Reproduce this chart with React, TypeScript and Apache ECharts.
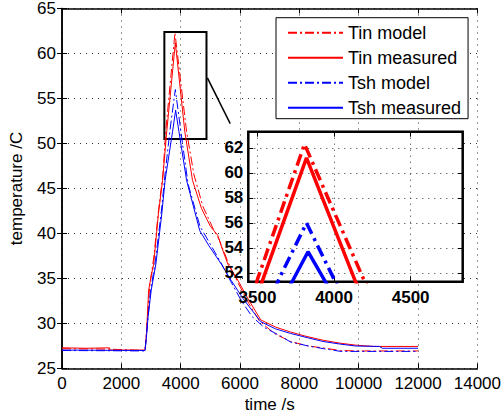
import React, { useEffect, useRef } from "react";
import * as echarts from "echarts";

// ---- data (time s, temperature C) ----
const tinModel: [number, number][] = [
  [0, 27.2], [1600, 27.15], [2800, 27.0], [2870, 30.0], [2950, 34.0], [3100, 37.5], [3250, 42.5],
  [3400, 46.5], [3500, 51.5], [3807, 62.3], [4200, 51.3], [4450, 46.5], [4750, 43.0], [5100, 40.5],
  [5300, 39.3], [5600, 36.8], [5950, 34.4], [6300, 32.2], [6650, 30.3], [7150, 28.9], [7700, 28.0],
  [8300, 27.5], [8710, 27.33], [9380, 27.0], [10000, 26.95], [12000, 26.95],
];
const tinMeasured: [number, number][] = [
  [0, 27.3], [800, 27.25], [1600, 27.3], [1620, 27.05], [2800, 27.05], [2850, 29.0], [2920, 33.7],
  [3000, 35.2], [3090, 36.6], [3250, 42.2], [3390, 45.9], [3530, 51.3], [3820, 61.2], [4140, 51.3],
  [4400, 45.9], [4700, 42.8], [5000, 40.8], [5250, 39.8], [5400, 38.3], [5590, 36.6], [5930, 34.8],
  [6260, 32.8], [6700, 30.4], [7200, 29.6], [7700, 29.06], [8200, 28.6], [8800, 28.14], [9400, 27.8],
  [9940, 27.58], [10500, 27.45], [12000, 27.45],
];
const tshModel: [number, number][] = [
  [0, 27.0], [2800, 26.95], [2880, 30.0], [2980, 33.5], [3150, 37.0], [3350, 42.5], [3470, 46.5],
  [3640, 51.5], [3820, 56.0], [4008, 51.3], [4250, 45.5], [4650, 40.8], [5000, 38.8], [5350, 36.8],
  [5700, 34.6], [6050, 32.5], [6400, 30.8], [6800, 29.6], [7370, 28.6], [7700, 27.95], [8300, 27.5],
  [8820, 27.2], [9400, 26.9], [12000, 26.9],
];
const tshMeasured: [number, number][] = [
  [0, 27.05], [2800, 27.0], [2860, 29.0], [2900, 30.7], [3007, 33.7], [3164, 36.6], [3364, 42.2],
  [3475, 45.9], [3726, 51.3], [3830, 53.7], [3943, 51.3], [4200, 45.9], [4645, 40.3], [4980, 38.5],
  [5370, 36.6], [5700, 34.8], [6094, 32.8], [6700, 30.2], [7200, 29.4], [7700, 28.9], [8300, 28.4],
  [8800, 28.0], [9400, 27.7], [9900, 27.5], [10700, 27.45], [10800, 27.25], [12000, 27.25],
];

const seriesNames = ["Tin model", "Tin measured", "Tsh model", "Tsh measured"];
const seriesColors = ["#ff0000", "#ff0000", "#0000ff", "#0000ff"];
const seriesDashed = [true, false, true, false];
const seriesData = [tinModel, tinMeasured, tshModel, tshMeasured];

// zoom window and inset ranges
const zoomBoxX = [3450, 4870];
const zoomBoxY = [50.5, 62.4];
const connector = [[4900, 57.3], [5670, 52.2]];
const mainX = { min: 0, max: 14000, interval: 2000 };
const mainY = { min: 25, max: 65, interval: 5 };
const insetX = { min: 3440, max: 4840 };
const insetY = { min: 51.3, max: 63.3 };
const insetXTicks = [3500, 4000, 4500];
const insetYTicks = [52, 54, 56, 58, 60, 62];

const FONT = "Liberation Sans, Arial, Helvetica, sans-serif";

export default function App() {
  const ref = useRef<HTMLDivElement>(null);
  useEffect(() => {
    if (!ref.current) return;
    const chart = echarts.init(ref.current, undefined, { renderer: "svg" });

    const dotted = { show: true, lineStyle: { color: "#333", type: [1, 5] as any, width: 1 } };
    const axisLineMain = { show: true, lineStyle: { color: "#000", width: 1.5 } };
    const tickIn = { show: true, inside: true, length: 5, lineStyle: { color: "#000", width: 1 } };
    const fmt = (v: number) => String(v);
    const labelMain = { color: "#000", fontSize: 17, fontFamily: FONT, formatter: fmt };
    const labelInset = { color: "#000", fontSize: 17, fontFamily: FONT, fontWeight: "bold" as const, formatter: fmt };

    const series: any[] = [];
    seriesData.forEach((d, i) => {
      const s: any = {
        type: "line",
        name: seriesNames[i],
        data: d,
        xAxisIndex: 0,
        yAxisIndex: 0,
        symbol: "none",
        z: 2,
        lineStyle: { color: seriesColors[i], width: 1, type: seriesDashed[i] ? [9, 3, 2, 3] : "solid" },
        itemStyle: { color: seriesColors[i] },
      };
      if (i === 0) {
        s.markArea = {
          silent: true,
          itemStyle: { color: "rgba(0,0,0,0)", borderColor: "#000", borderWidth: 2 },
          data: [[{ coord: [zoomBoxX[0], zoomBoxY[0]] }, { coord: [zoomBoxX[1], zoomBoxY[1]] }]],
        };
        s.markLine = {
          silent: true,
          symbol: "none",
          label: { show: false },
          lineStyle: { color: "#000", width: 1.5, type: "solid" },
          data: [[{ coord: connector[0] }, { coord: connector[1] }]],
        };
      }
      series.push(s);
    });
    seriesData.forEach((d, i) => {
      series.push({
        type: "line",
        name: seriesNames[i],
        data: d,
        xAxisIndex: 2,
        yAxisIndex: 2,
        symbol: "none",
        z: 5,
        clip: true,
        lineStyle: { color: seriesColors[i], width: 3.5, type: seriesDashed[i] ? [12, 5, 3, 5] : "solid" },
        itemStyle: { color: seriesColors[i] },
      });
    });

    chart.setOption({
      animation: false,
      backgroundColor: "#fff",
      textStyle: { fontFamily: FONT },
      grid: [
        { left: 59, top: 7.5, width: 419, height: 361, containLabel: false, show: false },
        {
          left: 248.3, top: 131.7, width: 214.4, height: 150, containLabel: false, show: true,
          backgroundColor: "#fff", borderColor: "#000", borderWidth: 2.5, z: 3,
        },
      ],
      xAxis: [
        {
          type: "value", gridIndex: 0, position: "bottom", ...mainX,
          name: "time /s", nameLocation: "middle", nameGap: 25,
          nameTextStyle: { color: "#000", fontSize: 17, fontFamily: FONT },
          axisLine: axisLineMain, axisTick: tickIn, splitLine: dotted,
          axisLabel: { ...labelMain, margin: 6 },
        },
        {
          type: "value", gridIndex: 0, position: "top", ...mainX,
          axisLine: axisLineMain, axisTick: tickIn, splitLine: { show: false }, axisLabel: { show: false },
        },
        {
          type: "value", gridIndex: 1, position: "bottom", ...insetX, z: 4,
          axisLine: { show: false },
          axisTick: { ...tickIn, customValues: insetXTicks },
          splitLine: dotted,
          axisLabel: { ...labelInset, margin: 7, customValues: insetXTicks },
        },
        {
          type: "value", gridIndex: 1, position: "top", ...insetX, z: 4,
          axisLine: { show: false },
          axisTick: { ...tickIn, customValues: insetXTicks },
          splitLine: { show: false }, axisLabel: { show: false },
        },
      ],
      yAxis: [
        {
          type: "value", gridIndex: 0, position: "left", ...mainY,
          name: "temperature /C", nameLocation: "middle", nameGap: 37,
          nameTextStyle: { color: "#000", fontSize: 17, fontFamily: FONT },
          axisLine: axisLineMain, axisTick: tickIn, splitLine: dotted,
          axisLabel: { ...labelMain, margin: 6 },
        },
        {
          type: "value", gridIndex: 0, position: "right", ...mainY,
          axisLine: axisLineMain, axisTick: tickIn, splitLine: { show: false }, axisLabel: { show: false },
        },
        {
          type: "value", gridIndex: 1, position: "left", ...insetY, z: 4,
          axisLine: { show: false },
          axisTick: { ...tickIn, customValues: insetYTicks },
          splitLine: dotted,
          axisLabel: { ...labelInset, margin: 5, customValues: insetYTicks },
        },
        {
          type: "value", gridIndex: 1, position: "right", ...insetY, z: 4,
          axisLine: { show: false },
          axisTick: { ...tickIn, customValues: insetYTicks },
          splitLine: { show: false }, axisLabel: { show: false },
        },
      ],
      legend: {
        data: seriesNames,
        orient: "vertical",
        left: 276,
        top: 17.7,
        z: 10,
        itemWidth: 55,
        itemHeight: 18,
        itemGap: 7,
        itemTextGap: 7,
        padding: [6, 7, 2, 11],
        backgroundColor: "#fff",
        borderColor: "#000",
        borderWidth: 1,
        borderRadius: 0,
        itemStyle: { opacity: 0 },
        textStyle: { color: "#000", fontSize: 18, fontFamily: FONT, lineHeight: 18 },
      },
      series,
    });
    return () => chart.dispose();
  }, []);
  return (
    <div
      ref={ref}
      style={{ position: "absolute", left: 0, top: 0, width: 504, height: 419 }}
    />
  );
}
